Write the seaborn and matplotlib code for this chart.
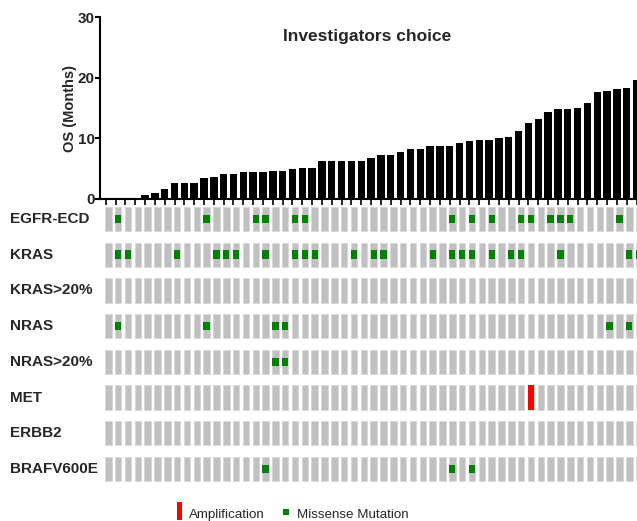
import numpy as np
import pandas as pd
import matplotlib
matplotlib.use("Agg")
import matplotlib.pyplot as plt
import matplotlib.transforms as mtransforms
from matplotlib.patches import Rectangle
import seaborn as sns

# ---------------- data ----------------
os_months = [0, 0, 0, 0, 0.6, 1.0, 1.7, 2.7, 2.7, 2.7,
             3.5, 3.7, 4.2, 4.2, 4.4, 4.4, 4.4, 4.6, 4.7, 4.9,
             5.2, 5.2, 6.2, 6.2, 6.2, 6.3, 6.3, 6.7, 7.2, 7.2,
             7.8, 8.3, 8.3, 8.7, 8.7, 8.8, 9.2, 9.5, 9.8, 9.8,
             10.0, 10.3, 11.3, 12.5, 13.2, 14.3, 14.8, 14.8, 15.0, 15.8,
             17.7, 17.8, 18.2, 18.3, 19.7]

genes = ["EGFR-ECD", "KRAS", "KRAS>20%", "NRAS", "NRAS>20%", "MET", "ERBB2", "BRAFV600E"]

egfr_ecd_missense = [1, 10, 15, 16, 19, 20, 35, 37, 39, 42, 43, 45, 46, 47, 52]
kras_missense = [1, 2, 7, 11, 12, 13, 16, 19, 20, 21, 25, 27, 28, 33, 35, 36, 37, 39, 41, 42, 46, 53, 54]
kras20_missense = []
nras_missense = [1, 10, 17, 18, 51, 53]
nras20_missense = [17, 18]
met_missense = []
erbb2_missense = []
braf_missense = [16, 35, 37]

met_amplification = [43]

title = "Investigators choice"
y_label = "OS (Months)"
y_ticks = [0, 10, 20, 30]
legend_labels = ["Amplification", "Missense Mutation"]

missense_rows = [egfr_ecd_missense, kras_missense, kras20_missense, nras_missense,
                 nras20_missense, met_missense, erbb2_missense, braf_missense]
amp_rows = [[], [], [], [], [], met_amplification, [], []]

# ---------------- style ----------------
sns.set_theme(style="ticks")
plt.rcParams['font.family'] = ['Liberation Sans', 'DejaVu Sans']

W, H = 637, 521
fig = plt.figure(figsize=(W / 100, H / 100), dpi=100)

n = len(os_months)
GREY = "#c0c0c0"
GREEN = "#008000"
RED = "#ff0000"

# ---------------- top bar chart ----------------
ax = fig.add_axes([100 / W, (H - 199) / H, 550 / W, 181.7 / H])
df = pd.DataFrame({"patient": np.arange(n), "os": os_months})
sns.barplot(data=df, x="patient", y="os", color="black", saturation=1,
            width=0.75, errorbar=None, linewidth=0, ax=ax)
ax.set_xlim(-0.58, 55.37)
ax.set_ylim(0, 30)
ax.set_yticks(y_ticks)
ax.set_xticks(np.arange(n))
ax.set_xticklabels([])
ax.tick_params(axis="x", bottom=True, direction="out", length=4, width=1.2, color="black")
ax.tick_params(axis="y", left=True, direction="out", length=3.6, width=1.5, pad=0,
               labelsize=11, color="black")
for lbl in ax.get_yticklabels():
    lbl.set_fontweight("bold")
for s in ["top", "right"]:
    ax.spines[s].set_visible(False)
for s in ["left", "bottom"]:
    ax.spines[s].set_linewidth(1.5)
    ax.spines[s].set_color("black")
ax.set_xlabel("")
ax.set_ylabel(y_label, fontweight="bold", fontsize=10.5, labelpad=1)
ax.text(0.485, 0.894, title, transform=ax.transAxes, ha="center", va="center",
        fontweight="bold", fontsize=12.5)

# ---------------- mutation grid ----------------
gax = fig.add_axes([100 / W, (H - 486.75) / H, 550 / W, 285.6 / H])
gax.set_xlim(-0.845, 55.11)
gax.set_ylim(7.5, -0.5)
gax.axis("off")
xs = np.arange(n)
lab_tr = mtransforms.blended_transform_factory(fig.transFigure, gax.transData)
for r, gene in enumerate(genes):
    gax.bar(xs, 0.68, bottom=r - 0.34, width=0.66, color=GREY,
            edgecolor="#d6d6d6", linewidth=0.5)
    mis = missense_rows[r]
    if mis:
        gax.bar(mis, 0.24, bottom=r - 0.12, width=0.64, color=GREEN, linewidth=0)
    amp = amp_rows[r]
    if amp:
        gax.bar(amp, 0.70, bottom=r - 0.35, width=0.66, color=RED, linewidth=0)
    gax.text(10 / W, r, gene, transform=lab_tr, ha="left", va="center",
             fontweight="bold", fontsize=11)

# ---------------- legend ----------------
fig.patches.append(Rectangle((176.7 / W, 1 / H), 5.6 / W, 18.5 / H,
                             transform=fig.transFigure, color=RED, linewidth=0))
fig.text(189 / W, 2.7 / H, legend_labels[0], ha="left", va="baseline", fontsize=9.6)
fig.patches.append(Rectangle((283.3 / W, 6 / H), 6 / W, 5.8 / H,
                             transform=fig.transFigure, color=GREEN, linewidth=0))
fig.text(296.7 / W, 2.7 / H, legend_labels[1], ha="left", va="baseline", fontsize=9.6)

fig.savefig("out.png", dpi=100)
